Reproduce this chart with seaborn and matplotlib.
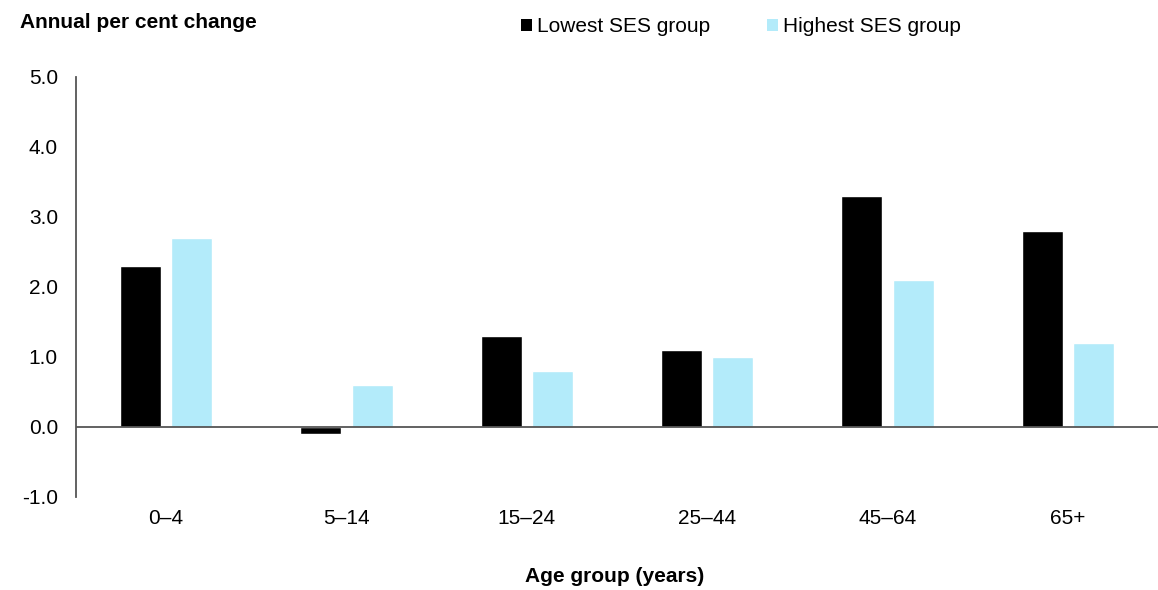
import matplotlib
matplotlib.use("Agg")
import matplotlib.pyplot as plt
import seaborn as sns
import pandas as pd
from matplotlib.patches import Patch

categories = ["0–4", "5–14", "15–24", "25–44", "45–64", "65+"]
lowest = [2.3, -0.1, 1.3, 1.1, 3.3, 2.8]
highest = [2.7, 0.6, 0.8, 1.0, 2.1, 1.2]
series_names = ["Lowest SES group", "Highest SES group"]
yticks = [-1.0, 0.0, 1.0, 2.0, 3.0, 4.0, 5.0]

df = pd.DataFrame({
    "age": categories * 2,
    "value": lowest + highest,
    "group": [series_names[0]] * len(categories) + [series_names[1]] * len(categories),
})

sns.set_style("white")
plt.rcParams["font.family"] = ["Liberation Sans", "DejaVu Sans"]
plt.rcParams["text.color"] = "black"
plt.rcParams["xtick.color"] = "black"
plt.rcParams["ytick.color"] = "black"

colors = ["#000000", "#B3EBFA"]
fs = 15
fig = plt.figure(figsize=(11.58, 5.90), dpi=100)
ax = fig.add_axes([76 / 1158, 1 - 497 / 590, 1 - 76 / 1158, 420 / 590])

sns.barplot(data=df, x="age", y="value", hue="group", palette=colors,
            width=0.57, gap=0.2, ax=ax, legend=False, saturation=1)

ax.set_ylim(-1.0, 5.0)
ax.set_xlim(-0.5, len(categories) - 0.5)
ax.set_yticks(yticks)
ax.set_yticklabels([f"{v:.1f}" for v in yticks], fontsize=fs)
ax.tick_params(axis="x", labelsize=fs, length=0, pad=9, labelcolor="black")
ax.tick_params(axis="y", length=0, pad=13, labelcolor="black")
ax.axhline(0, color="#555555", lw=1.3, zorder=3)
for s in ["top", "right", "bottom"]:
    ax.spines[s].set_visible(False)
ax.spines["left"].set_color("#555555")
ax.spines["left"].set_linewidth(1.3)
ax.set_xlabel("")
ax.set_ylabel("")

fig.text(615 / 1158, 1 - 576 / 590, "Age group (years)", fontsize=fs,
         fontweight="bold", va="center", ha="center", color="black")
fig.text(20 / 1158, 1 - 22 / 590, "Annual per cent change", fontsize=fs,
         fontweight="bold", va="center", ha="left", color="black")

handles = [Patch(facecolor=c, edgecolor="none") for c in colors]
leg = fig.legend(handles, series_names, loc="center", bbox_to_anchor=(741 / 1158, 1 - 27 / 590),
                 ncol=2, frameon=False, fontsize=fs, handlelength=0.55, handleheight=0.55,
                 handletextpad=0.25, columnspacing=2.7)
for t in leg.get_texts():
    t.set_color("black")

fig.savefig("out.png", dpi=100)
